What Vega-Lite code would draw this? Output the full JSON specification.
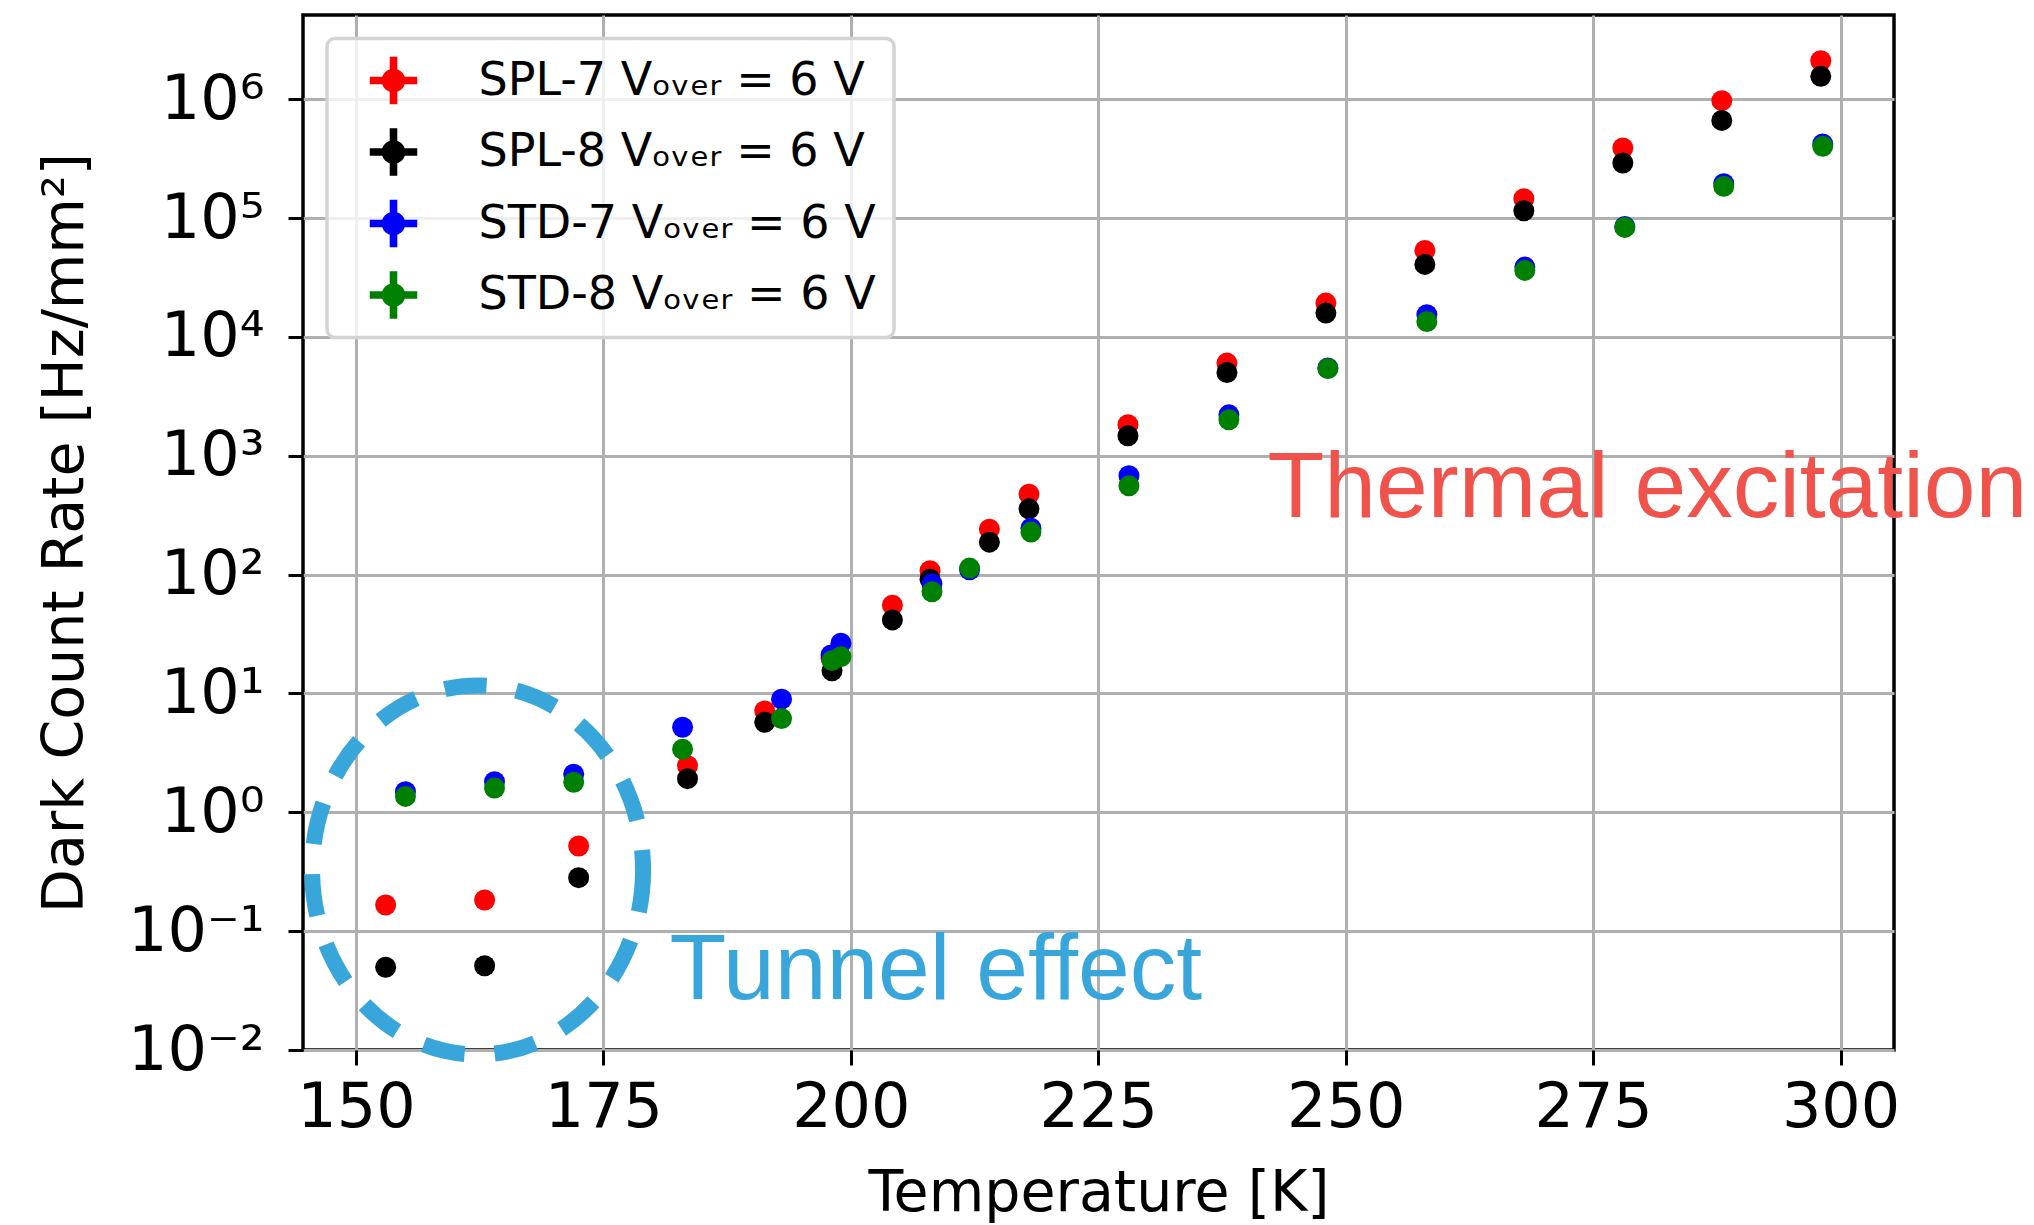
{
  "$schema": "https://vega.github.io/schema/vega-lite/v6.json",
  "width": 1591,
  "height": 1035,
  "autosize": {"type": "none"},
  "padding": {"left": 303, "top": 15, "right": 140, "bottom": 175},
  "background": "white",
  "config": {
    "font": "DejaVu Sans",
    "view": {"stroke": "#000000", "strokeWidth": 3.5},
    "axis": {
      "domain": false,
      "grid": true,
      "gridColor": "#b0b0b0",
      "gridWidth": 3,
      "tickColor": "#000000",
      "tickWidth": 3,
      "tickSize": 15,
      "labelFont": "DejaVu Sans",
      "labelFontSize": 62,
      "labelColor": "#000000",
      "labelOverlap": false,
      "labelFlush": false,
      "labelBound": false,
      "titleFont": "DejaVu Sans",
      "titleFontSize": 57,
      "titleFontWeight": "normal",
      "titleColor": "#000000"
    }
  },
  "datasets": {
    "points": [
      {"series": "SPL-7", "T": 153, "rate": 0.166},
      {"series": "SPL-7", "T": 163, "rate": 0.183},
      {"series": "SPL-7", "T": 172.5, "rate": 0.521},
      {"series": "SPL-7", "T": 183.5, "rate": 2.47},
      {"series": "SPL-7", "T": 191.3, "rate": 7.14},
      {"series": "SPL-7", "T": 198, "rate": 19.8},
      {"series": "SPL-7", "T": 204.2, "rate": 55.4},
      {"series": "SPL-7", "T": 208, "rate": 108},
      {"series": "SPL-7", "T": 214, "rate": 241.6},
      {"series": "SPL-7", "T": 218, "rate": 476},
      {"series": "SPL-7", "T": 228, "rate": 1824},
      {"series": "SPL-7", "T": 238, "rate": 6030},
      {"series": "SPL-7", "T": 248, "rate": 19280},
      {"series": "SPL-7", "T": 258, "rate": 53500},
      {"series": "SPL-7", "T": 268, "rate": 145600},
      {"series": "SPL-7", "T": 278, "rate": 389000},
      {"series": "SPL-7", "T": 288, "rate": 973000},
      {"series": "SPL-7", "T": 298, "rate": 2110000},
      {"series": "SPL-8", "T": 153, "rate": 0.0497},
      {"series": "SPL-8", "T": 163, "rate": 0.0512},
      {"series": "SPL-8", "T": 172.5, "rate": 0.282},
      {"series": "SPL-8", "T": 183.5, "rate": 1.92},
      {"series": "SPL-8", "T": 191.3, "rate": 5.73},
      {"series": "SPL-8", "T": 198.1, "rate": 15.5},
      {"series": "SPL-8", "T": 204.2, "rate": 41.6},
      {"series": "SPL-8", "T": 208, "rate": 91.6},
      {"series": "SPL-8", "T": 214, "rate": 187.7},
      {"series": "SPL-8", "T": 218, "rate": 358},
      {"series": "SPL-8", "T": 228, "rate": 1473},
      {"series": "SPL-8", "T": 238, "rate": 5025},
      {"series": "SPL-8", "T": 248, "rate": 15890},
      {"series": "SPL-8", "T": 258, "rate": 40800},
      {"series": "SPL-8", "T": 268, "rate": 115400},
      {"series": "SPL-8", "T": 278, "rate": 291000},
      {"series": "SPL-8", "T": 288, "rate": 664000},
      {"series": "SPL-8", "T": 298, "rate": 1560000},
      {"series": "STD-7", "T": 155, "rate": 1.49},
      {"series": "STD-7", "T": 164, "rate": 1.81},
      {"series": "STD-7", "T": 172, "rate": 2.09},
      {"series": "STD-7", "T": 183, "rate": 5.2},
      {"series": "STD-7", "T": 193, "rate": 8.95},
      {"series": "STD-7", "T": 198, "rate": 21.1},
      {"series": "STD-7", "T": 199, "rate": 26.5},
      {"series": "STD-7", "T": 208.2, "rate": 83.7},
      {"series": "STD-7", "T": 212, "rate": 110},
      {"series": "STD-7", "T": 218.2, "rate": 246},
      {"series": "STD-7", "T": 228.1, "rate": 679},
      {"series": "STD-7", "T": 238.2, "rate": 2213},
      {"series": "STD-7", "T": 248.2, "rate": 5480},
      {"series": "STD-7", "T": 258.2, "rate": 15380},
      {"series": "STD-7", "T": 268.1, "rate": 38740},
      {"series": "STD-7", "T": 278.2, "rate": 85100},
      {"series": "STD-7", "T": 288.2, "rate": 195000},
      {"series": "STD-7", "T": 298.2, "rate": 421000},
      {"series": "STD-8", "T": 155, "rate": 1.36},
      {"series": "STD-8", "T": 164, "rate": 1.6},
      {"series": "STD-8", "T": 172, "rate": 1.79},
      {"series": "STD-8", "T": 183, "rate": 3.4},
      {"series": "STD-8", "T": 193, "rate": 6.15},
      {"series": "STD-8", "T": 198.1, "rate": 18.9},
      {"series": "STD-8", "T": 199, "rate": 20.4},
      {"series": "STD-8", "T": 208.2, "rate": 71.7},
      {"series": "STD-8", "T": 212, "rate": 113.5},
      {"series": "STD-8", "T": 218.2, "rate": 228},
      {"series": "STD-8", "T": 228.1, "rate": 559},
      {"series": "STD-8", "T": 238.2, "rate": 2010},
      {"series": "STD-8", "T": 248.2, "rate": 5430},
      {"series": "STD-8", "T": 258.2, "rate": 13500},
      {"series": "STD-8", "T": 268.1, "rate": 36300},
      {"series": "STD-8", "T": 278.2, "rate": 83500},
      {"series": "STD-8", "T": 288.2, "rate": 185000},
      {"series": "STD-8", "T": 298.2, "rate": 402000}
    ],
    "ellipse": [{"T": 162.29, "rate": 0.327}],
    "thermal": [{"T": 242.1, "rate": 308, "label": "Thermal excitation"}],
    "tunnel": [{"T": 181.69, "rate": 0.0268, "label": "Tunnel effect"}]
  },
  "encoding": {
    "x": {
      "field": "T",
      "type": "quantitative",
      "scale": {"domain": [144.65, 305.4], "nice": false, "zero": false},
      "axis": {
        "values": [150, 175, 200, 225, 250, 275, 300],
        "labelPadding": 12,
        "title": "Temperature [K]",
        "titleBaseline": "alphabetic",
        "titleY": 160
      }
    },
    "y": {
      "field": "rate",
      "type": "quantitative",
      "scale": {"type": "log", "domain": [0.01, 5120000], "nice": false},
      "axis": {
        "values": [0.01, 0.1, 1, 10, 100, 1000, 10000, 100000, 1000000],
        "labelPadding": 24,
        "labelExpr": "'10' + ['⁻²','⁻¹','⁰','¹','²','³','⁴','⁵','⁶'][round(log(datum.value)/LN10) + 2]",
        "title": "Dark Count Rate [Hz/mm²]",
        "titleAngle": -90,
        "titleBaseline": "alphabetic",
        "titleAlign": "center",
        "titleX": -221,
        "titleY": 517.5
      }
    }
  },
  "layer": [
    {
      "data": {"name": "points"},
      "mark": {"type": "point", "shape": "circle", "filled": true, "opacity": 1, "size": 440, "strokeWidth": 0},
      "encoding": {
        "color": {
          "field": "series",
          "type": "nominal",
          "scale": {"domain": ["SPL-7", "SPL-8", "STD-7", "STD-8"], "range": ["#ff0000", "#000000", "#0000ff", "#008000"]},
          "legend": {
            "orient": "none",
            "legendX": 24,
            "legendY": 23.5,
            "title": null,
            "symbolType": "M-1,-0.16H1V0.16H-1Z M-0.16,-1H0.16V1H-0.16Z M0.5,0A0.5,0.5 0 1,1 -0.5,0A0.5,0.5 0 1,1 0.5,0Z",
            "symbolSize": 2256,
            "symbolStrokeWidth": 0,
            "symbolOpacity": 1,
            "symbolOffset": 24.5,
            "labelFont": "DejaVu Sans",
            "labelFontSize": 46,
            "labelColor": "#000000",
            "labelLimit": 1000,
            "labelOffset": 61,
            "labelExpr": "datum.label + ' Vₒᵥₑᵣ = 6 V'",
            "rowPadding": 23.5,
            "padding": 18,
            "fillColor": "rgba(255,255,255,0.8)",
            "strokeColor": "#d4d4d4",
            "cornerRadius": 8,
            "encode": {"legend": {"update": {"strokeWidth": {"value": 3.5}}}}
          }
        }
      }
    },
    {
      "data": {"name": "ellipse"},
      "mark": {
        "type": "point",
        "shape": "M0.897,0A0.897,1 0 1,1 -0.897,0A0.897,1 0 1,1 0.897,0Z",
        "filled": false,
        "size": 136161,
        "stroke": "#38a6db",
        "strokeWidth": 16,
        "strokeDash": [42, 30],
        "opacity": 1
      }
    },
    {
      "data": {"name": "thermal"},
      "mark": {"type": "text", "align": "left", "baseline": "alphabetic", "font": "Liberation Sans", "fontSize": 93, "color": "#f0534b"},
      "encoding": {"text": {"field": "label", "type": "nominal"}}
    },
    {
      "data": {"name": "tunnel"},
      "mark": {"type": "text", "align": "left", "baseline": "alphabetic", "font": "Liberation Sans", "fontSize": 93, "color": "#38a6db"},
      "encoding": {"text": {"field": "label", "type": "nominal"}}
    }
  ]
}
